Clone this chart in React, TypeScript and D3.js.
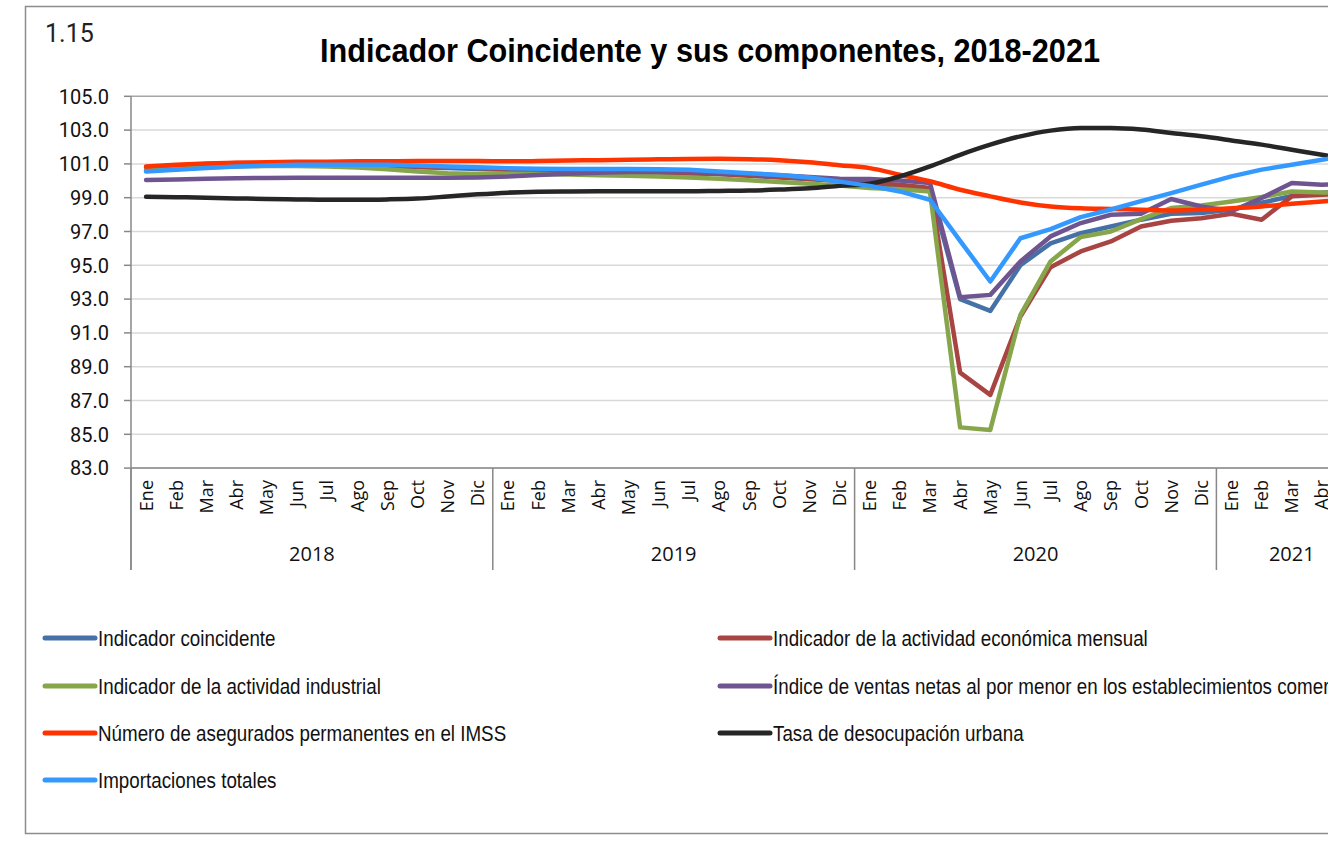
import React from "react";
import * as d3 from "d3";

const months = ["Ene", "Feb", "Mar", "Abr", "May", "Jun", "Jul", "Ago", "Sep", "Oct", "Nov", "Dic"];
const years = ["2018", "2019", "2020", "2021"];
const monthsPerYear = [12, 12, 12, 5];
const yTicks = [83, 85, 87, 89, 91, 93, 95, 97, 99, 101, 103, 105];

const coincidente = [
  100.6, 100.7, 100.8, 100.88, 100.92, 100.95, 100.93, 100.9, 100.85, 100.8, 100.75, 100.7,
  100.65, 100.6, 100.57, 100.55, 100.52, 100.5, 100.45, 100.4, 100.3, 100.2, 100.1, 100.0,
  99.8, 99.7, 99.55, 93.0, 92.3, 95.0, 96.3, 96.9, 97.3, 97.7, 98.05, 98.1,
  98.3, 98.7, 99.1, 99.3, 99.4,
];
const igae = [
  100.8, 100.9, 101.0, 101.05, 101.05, 101.05, 101.0, 100.95, 100.9, 100.85, 100.8, 100.75,
  100.7, 100.65, 100.6, 100.58, 100.55, 100.5, 100.45, 100.4, 100.32, 100.22, 100.1, 100.0,
  99.87, 99.77, 99.57, 88.65, 87.33, 91.97, 94.89, 95.82, 96.41, 97.3, 97.64, 97.79,
  98.05, 97.7, 99.08, 99.18, 99.25,
];
const industrial = [
  100.6, 100.7, 100.8, 100.85, 100.88, 100.88, 100.85, 100.78, 100.68, 100.55, 100.45, 100.4,
  100.42, 100.4, 100.37, 100.33, 100.3, 100.25, 100.2, 100.12, 100.03, 99.93, 99.82, 99.72,
  99.57, 99.5, 99.37, 85.41, 85.26, 92.07, 95.23, 96.67, 97.0, 97.73, 98.39, 98.54,
  98.78, 99.04, 99.37, 99.31, 99.3,
];
const ventas = [
  100.05, 100.08, 100.12, 100.15, 100.17, 100.18, 100.18, 100.18, 100.18, 100.18, 100.18, 100.2,
  100.25, 100.35, 100.42, 100.48, 100.52, 100.54, 100.52, 100.47, 100.4, 100.33, 100.22, 100.12,
  100.1, 100.02, 99.87, 93.11, 93.25, 95.23, 96.71, 97.5, 97.99, 98.05, 98.92, 98.48,
  98.2, 98.98, 99.87, 99.77, 99.8,
];
const imss = [
  100.85, 100.95, 101.02, 101.07, 101.1, 101.12, 101.13, 101.15, 101.16, 101.17, 101.17, 101.17,
  101.15, 101.17, 101.2, 101.22, 101.25, 101.27, 101.29, 101.3, 101.28, 101.22, 101.1, 100.92,
  100.75, 100.36, 99.97, 99.47, 99.08, 98.72, 98.48, 98.37, 98.33, 98.29, 98.25, 98.29,
  98.37, 98.48, 98.64, 98.78, 98.9,
];
const desocupacion = [
  99.06, 99.03, 99.0, 98.96, 98.92, 98.9, 98.88, 98.88, 98.9, 98.95, 99.07, 99.2,
  99.3, 99.35, 99.37, 99.38, 99.38, 99.38, 99.38, 99.4, 99.42, 99.48, 99.56, 99.7,
  99.83, 100.26, 100.85, 101.54, 102.14, 102.63, 102.97, 103.12, 103.12, 103.03, 102.83, 102.63,
  102.39, 102.14, 101.84, 101.54, 101.25,
];
const importaciones = [
  100.55, 100.65, 100.75, 100.85, 100.9, 100.95, 100.95, 100.95, 100.95, 100.9, 100.85, 100.8,
  100.75, 100.72, 100.7, 100.7, 100.7, 100.68, 100.65, 100.55, 100.45, 100.34, 100.2, 99.95,
  99.7, 99.37, 98.88, 96.45, 94.04, 96.6, 97.14, 97.85, 98.3, 98.8, 99.27, 99.77,
  100.26, 100.66, 100.95, 101.25, 101.5,
];

const seriesNames = [
  "Indicador coincidente",
  "Indicador de la actividad económica mensual",
  "Indicador de la actividad industrial",
  "Índice de ventas netas al por menor en los establecimientos comerciales",
  "Número de asegurados permanentes en el IMSS",
  "Tasa de desocupación urbana",
  "Importaciones totales",
];
const seriesValues = [coincidente, igae, industrial, ventas, imss, desocupacion, importaciones];
const seriesColors = ["#4571A7", "#A84442", "#87A54B", "#6F5590", "#FF3300", "#262626", "#3399FF"];
const seriesSmooth = [false, false, false, false, true, true, false];

export default function App() {
  const W = 1328;
  const H = 844;
  const plotLeft = 131;
  const step = 30.15;
  const plotTop = 96.3;
  const plotBottom = 468.1;

  const categories: { m: string; y: string }[] = [];
  years.forEach((y, yi) => {
    for (let k = 0; k < monthsPerYear[yi]; k++) categories.push({ m: months[k], y });
  });
  const n = categories.length;

  const x = d3
    .scaleBand<number>()
    .domain(d3.range(n))
    .range([plotLeft, plotLeft + step * n])
    .padding(0);
  const cx = (i: number) => (x(i) as number) + x.bandwidth() / 2;
  const y = d3.scaleLinear().domain([83, 105]).range([plotBottom, plotTop]);

  const bounds: number[] = [0];
  monthsPerYear.forEach((c, i) => bounds.push(bounds[i] + c));

  const lineFor = (vals: number[], smooth: boolean) =>
    d3
      .line<number>()
      .x((_, i) => cx(i))
      .y((v) => y(v))
      .curve(smooth ? d3.curveMonotoneX : d3.curveLinear)(vals) || "";

  const sans = "'Liberation Sans', Arial, sans-serif";
  const legendRows = [638, 686, 733, 780];
  const legendCols = [43, 718];

  return (
    <svg
      width={W}
      height={H}
      style={{ position: "fixed", left: 0, top: 0, background: "#fff" }}
      fontFamily="Roboto, 'Liberation Sans', sans-serif"
    >
      <rect x={0} y={0} width={W} height={H} fill="#fff" />
      <rect x={25.5} y={6.5} width={W + 50} height={827} fill="none" stroke="#8c8c8c" strokeWidth={1.5} />

      <text x={45} y={42} fontSize={25} fill="#222">1.15</text>
      <text
        x={710}
        y={62}
        fontSize={34}
        fontWeight="bold"
        fontFamily={sans}
        textAnchor="middle"
        textLength={780}
        lengthAdjust="spacingAndGlyphs"
        fill="#000"
      >
        Indicador Coincidente y sus componentes, 2018-2021
      </text>

      {yTicks.map((t) => (
        <line
          key={t}
          x1={plotLeft}
          x2={W}
          y1={y(t)}
          y2={y(t)}
          stroke={t === 105 ? "#a6a6a6" : "#d9d9d9"}
          strokeWidth={1.5}
        />
      ))}
      <line x1={plotLeft} x2={plotLeft} y1={plotTop} y2={570} stroke="#888" strokeWidth={1.5} />
      {yTicks.map((t) => (
        <g key={"t" + t}>
          <line x1={124} x2={plotLeft} y1={y(t)} y2={y(t)} stroke="#888" strokeWidth={1.5} />
          <text x={109} y={y(t)} dy="0.36em" fontSize={20} textAnchor="end" fill="#111">
            {t.toFixed(1)}
          </text>
        </g>
      ))}
      <line x1={plotLeft} x2={W} y1={plotBottom} y2={plotBottom} stroke="#888" strokeWidth={1.5} />
      {bounds.map((b, i) => (
        <line
          key={"b" + i}
          x1={plotLeft + step * b}
          x2={plotLeft + step * b}
          y1={plotBottom}
          y2={570}
          stroke="#888"
          strokeWidth={1.5}
        />
      ))}
      {categories.map((c, i) => (
        <text
          key={"m" + i}
          transform={`translate(${cx(i) + 6.5},480) rotate(-90)`}
          fontSize={18}
          fontFamily="'Open Sans', 'Liberation Sans', sans-serif"
          textAnchor="end"
          fill="#111"
        >
          {c.m}
        </text>
      ))}
      {years.map((yr, i) => (
        <text
          key={yr}
          x={plotLeft + step * (bounds[i] + bounds[i + 1]) / 2}
          y={561}
          fontSize={20}
          fontFamily="'Open Sans', 'Liberation Sans', sans-serif"
          textAnchor="middle"
          fill="#111"
        >
          {yr}
        </text>
      ))}

      <g>
        {seriesValues.map((vals, si) => (
          <path
            key={seriesNames[si]}
            d={lineFor(vals, seriesSmooth[si])}
            fill="none"
            stroke={seriesColors[si]}
            strokeWidth={4.5}
            strokeLinejoin="round"
            strokeLinecap="round"
          />
        ))}
      </g>

      {seriesNames.map((name, si) => {
        const col = si % 2;
        const row = Math.floor(si / 2);
        const lx = legendCols[col];
        const ly = legendRows[row];
        return (
          <g key={"lg" + si}>
            <line x1={lx + 2} x2={lx + 52} y1={ly} y2={ly} stroke={seriesColors[si]} strokeWidth={5} strokeLinecap="round" />
            <text
              transform={`translate(${lx + 55},${ly}) scale(0.835,1)`}
              dy="0.35em"
              fontSize={22.5}
              fontFamily={sans}
              fill="#111"
            >
              {name}
            </text>
          </g>
        );
      })}
    </svg>
  );
}
